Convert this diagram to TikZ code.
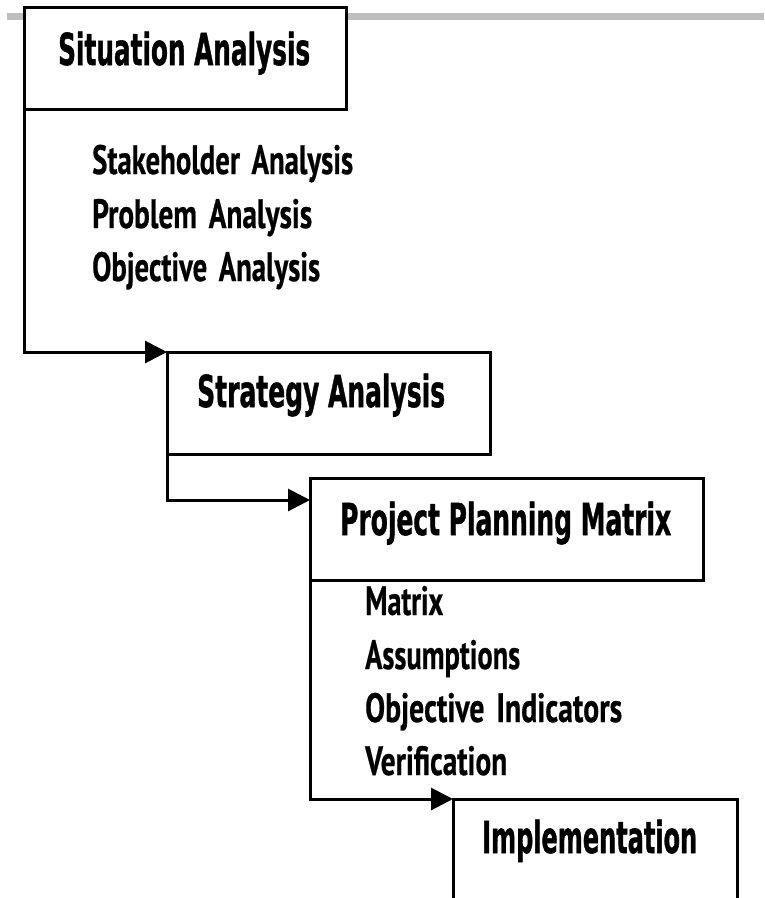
\documentclass[tikz,border=0pt]{standalone}
\usepackage{fontspec}
\usepackage{graphicx}
\usetikzlibrary{arrows.meta}
\newfontfamily\headfont{DejaVu Sans Condensed Bold}[FakeBold=1.2]
\newfontfamily\itemfont{PT Sans Bold}[WordSpace=1.6,FakeBold=0.6]
% squeeze a text horizontally to a given width, keeping its height
\newcommand{\fitwidth}[2]{\resizebox{#1}{\height}{#2}}
\definecolor{rulegray}{RGB}{190,190,190}

\begin{document}
\begin{tikzpicture}[x=1pt,y=-1pt,
  box/.style={draw=black, line width=3pt, fill=white, rectangle,
    inner sep=0pt, outer sep=0pt, anchor=north west},
  head/.style={anchor=base west, inner sep=0pt,
    font=\headfont\fontsize{44}{44}\selectfont},
  item/.style={anchor=base west, inner sep=0pt,
    font=\itemfont\fontsize{41}{41}\selectfont},
  flow/.style={line width=3pt, line join=miter,
    -{Triangle[length=22pt,width=22pt]}}
]
\useasboundingbox (0,0) rectangle (764,898);
\clip (0,0) rectangle (764,898);
\fill[white] (0,0) rectangle (764,898);

% header rule
\draw[line width=7pt, rulegray] (7,16.5) -- (764,16.5);

% stage boxes
\node[box, minimum width=322pt, minimum height=102pt] (s1) at (24,7) {};
\node[box, minimum width=323pt, minimum height=102pt] (s2) at (167,352) {};
\node[box, minimum width=393pt, minimum height=102pt] (s3) at (310,478) {};
\node[box, minimum width=284pt, minimum height=150pt] (s4) at (453,799) {};

% stage titles
\node[head] (t1) at (58,65)  {\fitwidth{252pt}{Situation Analysis}};
\node[head] (t2) at (197,407) {\fitwidth{248pt}{Strategy Analysis}};
\node[head] (t3) at (340,535) {\fitwidth{331pt}{Project Planning Matrix}};
\node[head] (t4) at (482,853) {\fitwidth{215pt}{Implementation}};

% sub-steps of the situation analysis
\node[item] (a1) at (92,174) {\fitwidth{261pt}{Stakeholder Analysis}};
\node[item] (a2) at (92,228) {\fitwidth{220pt}{Problem Analysis}};
\node[item] (a3) at (92,281) {\fitwidth{228pt}{Objective Analysis}};

% parts of the planning matrix
\node[item] (m1) at (365,615) {\fitwidth{78pt}{Matrix}};
\node[item] (m2) at (365,669) {\fitwidth{155pt}{Assumptions}};
\node[item] (m3) at (365,722) {\fitwidth{257pt}{Objective Indicators}};
\node[item] (m4) at (365,775) {\fitwidth{142pt}{Verification}};

% flow between stages
\draw[flow] (s1.south west) |- (s2.north west);
\draw[flow] (s2.south west) |- ([yshift=-22pt]s3.north west);
\draw[flow] (s3.south west) |- (s4.north west);
\end{tikzpicture}
\end{document}
